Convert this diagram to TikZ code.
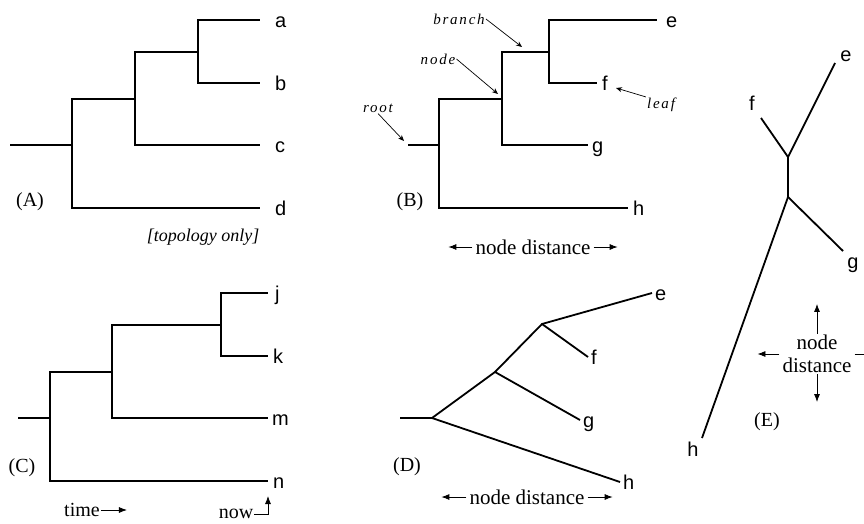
\documentclass[tikz,border=0pt]{standalone}
\usepackage{fontspec}
\setmainfont{Liberation Serif}
\newfontfamily\leaffont{Liberation Sans}
\newfontfamily\notefont[LetterSpace=12]{Liberation Serif}
\usetikzlibrary{arrows.meta, positioning}

\begin{document}
\begin{tikzpicture}[
  x=1pt, y=-1pt,
  edge/.style={line width=1.8pt},
  leaf/.style={font=\leaffont\fontsize{20}{20}\selectfont, inner ysep=0pt, inner xsep=5pt,
               text height=14.5pt, text depth=0pt, anchor=west},
  tag/.style={font=\leaffont\fontsize{20}{20}\selectfont, inner sep=0pt, text height=14.5pt, text depth=0pt},
  lbl/.style={font=\fontsize{20}{20}\selectfont, inner sep=1pt},
  dist/.style={font=\fontsize{21}{23}\selectfont, inner ysep=1pt, inner xsep=3pt},
  note/.style={font=\notefont\itshape\fontsize{15}{15}\selectfont, inner sep=1pt},
  arr/.style={-{Latex[length=8pt,width=6pt]}, line width=0.8pt},
  pointer/.style={-{Stealth[length=6pt,width=5pt]}, line width=0.7pt}
]
\useasboundingbox (0,0) rectangle (864,524);

% (A) topology only
\coordinate (A0) at (10,145);
\coordinate (A1) at (72,145);
\coordinate (A2) at (135,99);
\coordinate (A3) at (198,52);
\node[leaf, inner xsep=15pt] (a) at (260,20) {a};
\node[leaf, inner xsep=15pt] (b) at (260,83) {b};
\node[leaf, inner xsep=15pt] (c) at (260,145) {c};
\node[leaf, inner xsep=15pt] (d) at (260,208) {d};
\draw[edge] (A0) -- (A1) |- (A2) |- (A3) |- (a);
\draw[edge] (A3) |- (b);
\draw[edge] (A2) |- (c);
\draw[edge] (A1) |- (d);
\node[lbl] (labA) at (30,202) {(A)};
\node[lbl, font=\itshape\fontsize{18}{18}\selectfont] (topo) at (203,237) {[topology only]};

% (B) branch lengths
\coordinate (B0) at (408,145);
\coordinate (B1) at (439,145);
\coordinate (B2) at (502,99);
\coordinate (B3) at (549,52);
\node[leaf, inner xsep=9pt] (Be) at (657,20) {e};
\node[leaf] (Bf) at (597,83) {f};
\node[leaf, inner xsep=4pt] (Bg) at (588,145) {g};
\node[leaf] (Bh) at (628,208) {h};
\draw[edge] (B0) -- (B1) |- (B2) |- (B3) |- (Be);
\draw[edge] (B3) |- (Bf);
\draw[edge] (B2) |- (Bg);
\draw[edge] (B1) |- (Bh);
\node[lbl] (labB) at (410,202) {(B)};

\node[note] (branch) at (459,19) {branch};
\coordinate (branchtip) at (522,47);
\draw[pointer] (branch.east) -- (branchtip);
\node[note] (nodetxt) at (438,59) {node};
\coordinate (nodetip) at (498,94);
\draw[pointer] (nodetxt.east) -- (nodetip);
\node[note] (roottxt) at (378,108) {root};
\coordinate (roottip) at (404,141);
\draw[pointer] (roottxt.south) -- (roottip);
\node[note] (leaftxt) at (661,105) {leaf};
\coordinate (leaftip) at (616,88);
\draw[pointer] (leaftxt.north west) -- (leaftip);

\node[dist] (ndB) at (533,247) {node distance};
\coordinate[left=24pt of ndB] (ndBl);
\coordinate[right=24pt of ndB] (ndBr);
\draw[arr] (ndB) -- (ndBl);
\draw[arr] (ndB) -- (ndBr);

% (C) time scale
\coordinate (C0) at (18,418);
\coordinate (C1) at (50,418);
\coordinate (C2) at (112,372);
\coordinate (C3) at (221,325);
\node[leaf, inner xsep=7pt] (j) at (268,293) {j};
\node[leaf] (k) at (268,356) {k};
\node[leaf, inner xsep=4pt] (m) at (268,418) {m};
\node[leaf] (n) at (268,481) {n};
\draw[edge] (C0) -- (C1) |- (C2) |- (C3) |- (j);
\draw[edge] (C3) |- (k);
\draw[edge] (C2) |- (m);
\draw[edge] (C1) |- (n);
\node[lbl] (labC) at (22,468) {(C)};

\node[lbl] (time) at (82,510) {time};
\coordinate[right=26pt of time] (timetip);
\draw[arr] (time) -- (timetip);
\node[lbl] (now) at (236,514) {now};
\coordinate (nowtip) at (268,496);
\draw[arr] (now.east) -| (nowtip);

% (D) slanted
\coordinate (D0) at (400,418);
\coordinate (D1) at (432,418);
\coordinate (D2) at (495,372);
\coordinate (D3) at (542,324);
\node[leaf, inner xsep=3pt] (De) at (652,293) {e};
\node[leaf, inner xsep=3pt] (Df) at (588,357) {f};
\node[leaf, inner xsep=3pt] (Dg) at (580,420) {g};
\node[leaf, inner xsep=3pt] (Dh) at (620,482) {h};
\draw[edge] (D0) -- (D1) -- (D2) -- (D3) -- (De.west);
\draw[edge] (D3) -- (Df.west);
\draw[edge] (D2) -- (Dg.west);
\draw[edge] (D1) -- (Dh.west);
\node[lbl] (labD) at (407,467) {(D)};

\node[dist] (ndD) at (527,497) {node distance};
\coordinate[left=25pt of ndD] (ndDl);
\coordinate[right=25pt of ndD] (ndDr);
\draw[arr] (ndD) -- (ndDl);
\draw[arr] (ndD) -- (ndDr);

% (E) unrooted
\coordinate (E1) at (788,157);
\coordinate (E2) at (788,197);
\coordinate (Ee) at (835,63);
\coordinate (Ef) at (761,118);
\coordinate (Eg) at (843,251);
\coordinate (Eh) at (702,438);
\draw[edge] (Ee) -- (E1) -- (E2) -- (Eh);
\draw[edge] (Ef) -- (E1);
\draw[edge] (E2) -- (Eg);
\node[tag] (Ete) at (846,54) {e};
\node[tag] (Etf) at (752,103) {f};
\node[tag] (Etg) at (853,261) {g};
\node[tag] (Eth) at (693,449) {h};
\node[lbl] (labE) at (767,422) {(E)};

\node[dist, align=center] (ndE) at (817,354) {node\\distance};
\coordinate[above=30pt of ndE] (ndEu);
\coordinate[below=28pt of ndE] (ndEd);
\coordinate[left=22pt of ndE] (ndEl);
\coordinate[right=24pt of ndE] (ndEr);
\draw[arr] (ndE) -- (ndEu);
\draw[arr] (ndE) -- (ndEd);
\draw[arr] (ndE) -- (ndEl);
\draw[arr] (ndE) -- (ndEr);
\end{tikzpicture}
\end{document}
